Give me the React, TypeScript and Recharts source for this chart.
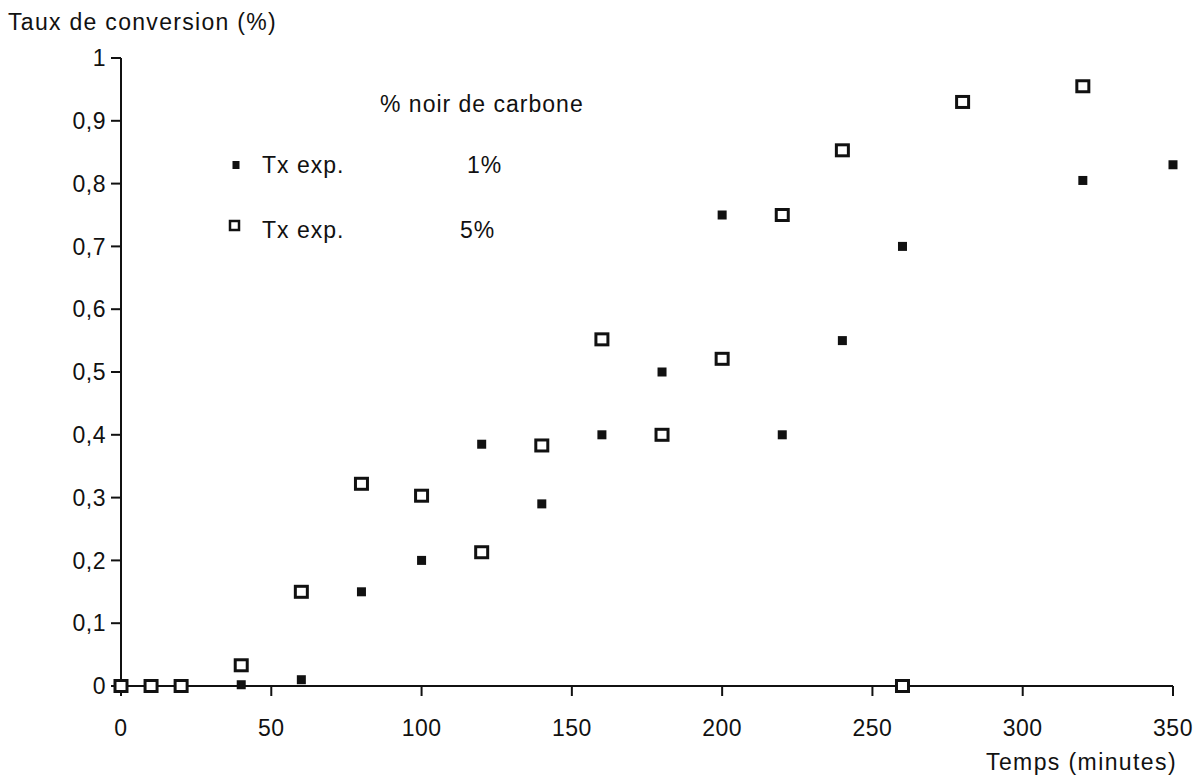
import { ScatterChart, Scatter, XAxis, YAxis, Legend } from "recharts";

const FONT = '"Liberation Sans", Arial, Helvetica, sans-serif';
const INK = "#111";

const timeTicks = [0, 50, 100, 150, 200, 250, 300, 350];
const rateTicks = [0, 0.1, 0.2, 0.3, 0.4, 0.5, 0.6, 0.7, 0.8, 0.9, 1];

// 1% noir de carbone
const times1 = [40, 60, 80, 100, 120, 140, 160, 180, 200, 220, 240, 260, 320, 350];
const rates1 = [0.002, 0.01, 0.15, 0.2, 0.385, 0.29, 0.4, 0.5, 0.75, 0.4, 0.55, 0.7, 0.805, 0.83];

// 5% noir de carbone
const times5 = [0, 10, 20, 40, 60, 80, 100, 120, 140, 160, 180, 200, 220, 240, 260, 280, 320];
const rates5 = [0, 0, 0, 0.033, 0.15, 0.322, 0.303, 0.213, 0.383, 0.552, 0.4, 0.521, 0.75, 0.853, 0, 0.93, 0.955];

const seriesLabels = ["1%", "5%"];

const data1 = times1.map((t, i) => ({ t, y: rates1[i] }));
const data5 = times5.map((t, i) => ({ t, y: rates5[i] }));

function FilledSquare(props: any) {
  const { cx, cy } = props;
  return <rect x={cx - 4.5} y={cy - 4.5} width={9} height={9} fill={INK} />;
}

function OpenSquare(props: any) {
  const { cx, cy } = props;
  return (
    <rect x={cx - 6} y={cy - 5.5} width={12} height={11} fill="#fff" stroke={INK} strokeWidth={3} />
  );
}

function LegendBox() {
  const rowTops = [61, 126];
  const pctLeft = [247, 240];
  return (
    <div
      style={{
        position: "relative",
        width: 400,
        height: 160,
        fontFamily: FONT,
        fontSize: 23,
        lineHeight: "26px",
        letterSpacing: 1,
        color: INK,
      }}
    >
      <span style={{ position: "absolute", left: 160, top: 0, whiteSpace: "nowrap" }}>% noir de carbone</span>
      {seriesLabels.map((label, i) => (
        <div key={label}>
          <svg
            style={{ position: "absolute", left: 6, top: rowTops[i] + 2 }}
            width={20}
            height={20}
          >
            {i === 0 ? (
              <rect x={6.5} y={7} width={7} height={8} fill={INK} />
            ) : (
              <rect x={4} y={2} width={9} height={9} fill="#fff" stroke={INK} strokeWidth={2.5} />
            )}
          </svg>
          <span style={{ position: "absolute", left: 42, top: rowTops[i], whiteSpace: "nowrap" }}>Tx exp.</span>
          <span style={{ position: "absolute", left: pctLeft[i], top: rowTops[i] }}>{label}</span>
        </div>
      ))}
    </div>
  );
}

const tickStyle = { fill: INK, fontSize: 23, fontFamily: FONT, letterSpacing: 0.5 };

export default function App() {
  return (
    <div
      style={{
        position: "absolute",
        left: 0,
        top: 0,
        width: 1195,
        height: 775,
        background: "#fff",
        fontFamily: FONT,
        color: INK,
      }}
    >
      <div style={{ position: "absolute", left: 8, top: 8, fontSize: 23, lineHeight: "28px", letterSpacing: 1.3, whiteSpace: "nowrap" }}>
        Taux de conversion (%)
      </div>
      <div style={{ position: "absolute", right: 18, top: 748, fontSize: 23, lineHeight: "28px", letterSpacing: 1.4, whiteSpace: "nowrap" }}>
        Temps (minutes)
      </div>
      <ScatterChart width={1195} height={775} margin={{ top: 58, right: 22, bottom: 59, left: 0 }}>
        <XAxis
          type="number"
          dataKey="t"
          domain={[0, 350]}
          ticks={timeTicks}
          interval={0}
          height={30}
          tickSize={10}
          tickMargin={24}
          tick={tickStyle}
          axisLine={{ stroke: INK, strokeWidth: 2 }}
          tickLine={{ stroke: INK, strokeWidth: 2 }}
        />
        <YAxis
          type="number"
          dataKey="y"
          domain={[0, 1]}
          ticks={rateTicks}
          interval={0}
          width={121}
          tickSize={10}
          tickMargin={5}
          tick={tickStyle}
          tickFormatter={(v: number) => String(v).replace(".", ",")}
          axisLine={{ stroke: INK, strokeWidth: 2 }}
          tickLine={{ stroke: INK, strokeWidth: 2 }}
        />
        <Legend
          layout="vertical"
          align="center"
          verticalAlign="middle"
          wrapperStyle={{ top: 91, left: 220, width: 400, height: 160 }}
          content={() => <LegendBox />}
        />
        <Scatter name={seriesLabels[1]} data={data5} shape={OpenSquare} isAnimationActive={false} />
        <Scatter name={seriesLabels[0]} data={data1} shape={FilledSquare} isAnimationActive={false} />
      </ScatterChart>
    </div>
  );
}
